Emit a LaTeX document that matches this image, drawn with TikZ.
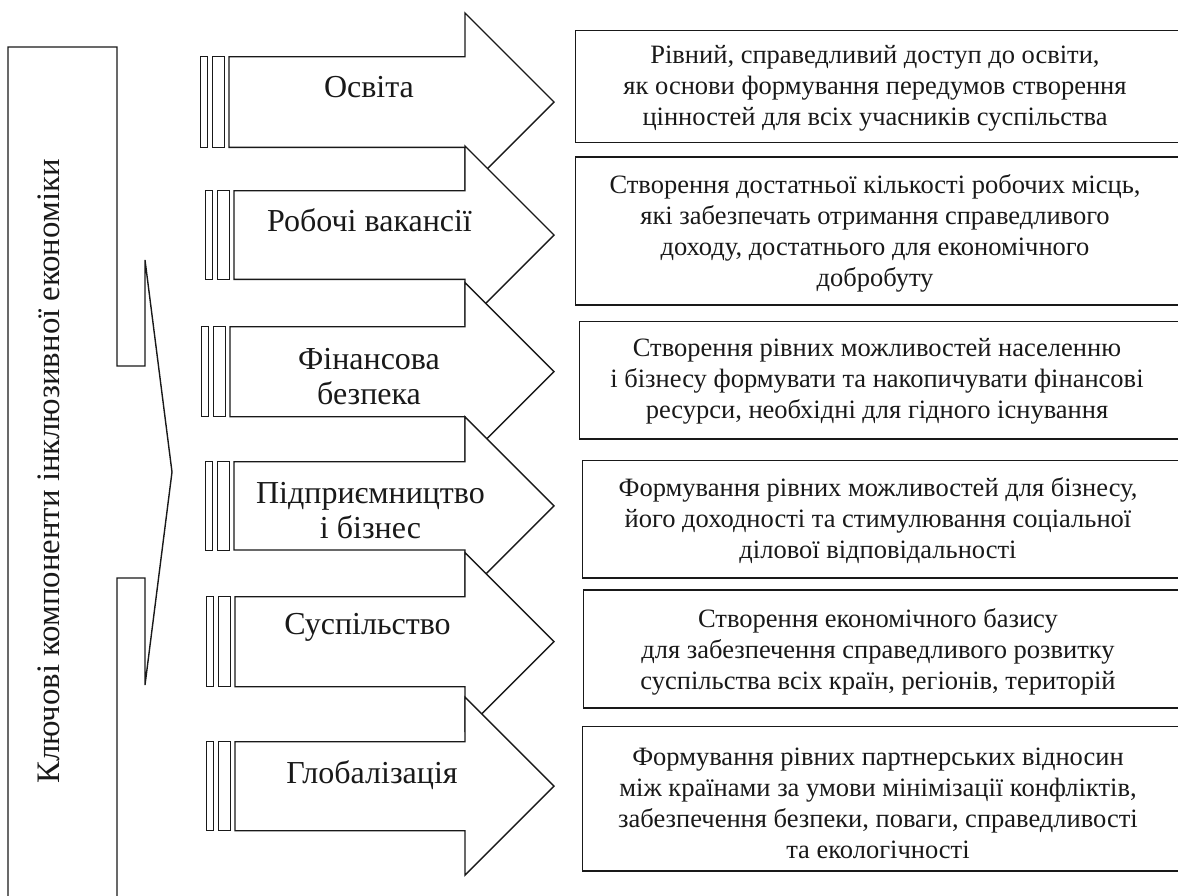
\documentclass[tikz,border=0pt]{standalone}
\usepackage{fontspec}
\setmainfont{Liberation Serif}
\begin{document}
\begin{tikzpicture}[x=1pt,y=-1pt,
  line width=1.4pt,
  outline/.style={draw=black!90, line width=1.4pt},
  arrowbody/.style={draw=black!90, fill=white, line width=1.4pt, line join=miter},
  stripebox/.style={draw=black!90, fill=white, line width=1.0pt},
  lbl/.style={font=\fontsize{32}{35}\selectfont, align=center, text=black!90, inner sep=0pt},
  desctext/.style={font=\fontsize{26.5}{31}\selectfont, align=center, text=black!90, inner sep=0pt},
  descbox/.style={draw=black!90, line width=1.4pt, inner sep=0pt}]
\useasboundingbox (0,0) rectangle (1178,895);
\clip (0,0) rectangle (1178,895);

% left bracket with triangle pointer
\draw[outline, line join=miter] (8,900) -- (8,47) -- (117,47) -- (117,366) -- (145,366) -- (145,260)
  -- (172,472) -- (145,685) -- (145,578) -- (117,578) -- (117,900);
\node[rotate=90, font=\fontsize{32.8}{36}\selectfont, text=black!90, inner sep=0pt] (title) at (48.5,471.5)
  {Ключові компоненти інклюзивної економіки};

% arrows: stripe-left x, body top, body bottom
\foreach \s/\t/\b [count=\i] in {200.5/56.7/147.3, 205.5/190.7/279.3, 201.5/326.7/416.7,
                                  205.5/461.7/550, 206.5/596.7/686.7, 206.5/741.7/830.7}{
  \pgfmathsetmacro{\c}{(\t+\b)/2}
  \draw[stripebox] (\s,\t) rectangle ({\s+7},\b);
  \draw[stripebox] ({\s+11.5},\t) rectangle ({\s+23.5},\b);
  \draw[arrowbody] ({\s+28.5},\t) -- (465,\t) -- (465,{\c-89}) -- (554,\c) -- (465,{\c+89})
     -- (465,\b) -- ({\s+28.5},\b) -- cycle;
}

% arrow labels
\node[lbl, anchor=base] (l1) at (369,97) {Освіта};
\node[lbl, anchor=base] (l2) at (369.5,231.5) {Робочі вакансії};
\node[lbl] (l3) at (369,377) {Фінансова\\безпека};
\node[lbl] (l4) at (370.5,510.5) {Підприємництво\\і бізнес};
\node[lbl, anchor=base] (l5) at (367.5,634.5) {Суспільство};
\node[lbl, anchor=base] (l6) at (372,783) {Глобалізація};

% description boxes (right edge extends past picture border)
\node[descbox, minimum width=640, minimum height=112, anchor=west] (d1) at (575,86.7) {};
\node[desctext] (t1) at (875,88)
  {Рівний, справедливий доступ до освіти,\\як основи формування передумов створення\\цінностей для всіх учасників суспільства};
\node[descbox, minimum width=640, minimum height=148, anchor=west] (d2) at (575,231) {};
\node[desctext] (t2) at (875,233)
  {Створення достатньої кількості робочих місць,\\які забезпечать отримання справедливого\\доходу, достатнього для економічного\\добробуту};
\node[descbox, minimum width=640, minimum height=117.3, anchor=west] (d3) at (579,380.3) {};
\node[desctext] (t3) at (877,381)
  {Створення рівних можливостей населенню\\і бізнесу формувати та накопичувати фінансові\\ресурси, необхідні для гідного існування};
\node[descbox, minimum width=640, minimum height=117.3, anchor=west] (d4) at (581.7,519.3) {};
\node[desctext] (t4) at (878,521)
  {Формування рівних можливостей для бізнесу,\\його доходності та стимулювання соціальної\\ділової відповідальності};
\node[descbox, minimum width=640, minimum height=118, anchor=west] (d5) at (582.7,649) {};
\node[desctext] (t5) at (878,652)
  {Створення економічного базису\\для забезпечення справедливого розвитку\\суспільства всіх країн, регіонів, територій};
\node[descbox, minimum width=640, minimum height=144.3, anchor=west] (d6) at (581.7,798.8) {};
\node[desctext] (t6) at (878,803)
  {Формування рівних партнерських відносин\\між країнами за умови мінімізації конфліктів,\\забезпечення безпеки, поваги, справедливості\\та екологічності};
\end{tikzpicture}
\end{document}
